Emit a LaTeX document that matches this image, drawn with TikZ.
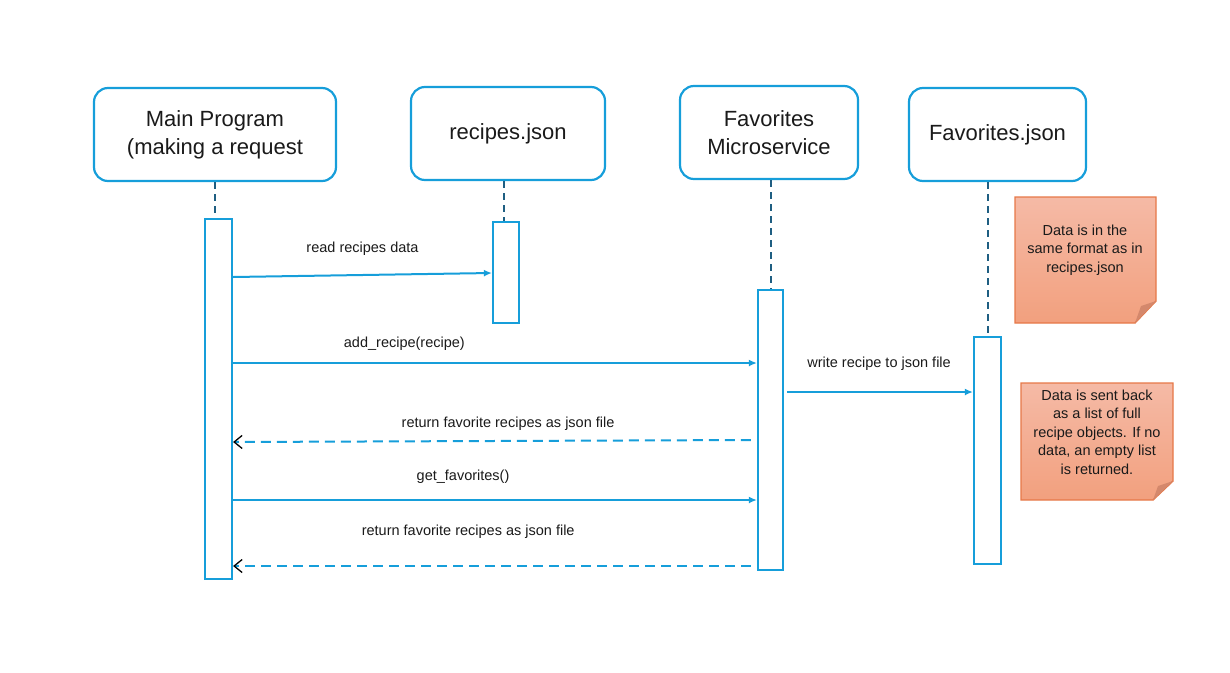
\documentclass[tikz,border=0pt]{standalone}
\usepackage{fontspec}
\setmainfont{Liberation Sans}
\usetikzlibrary{arrows.meta}

\definecolor{lineblue}{RGB}{22,158,218}
\definecolor{lifeblue}{RGB}{31,94,130}
\definecolor{notetop}{RGB}{245,186,166}
\definecolor{notebot}{RGB}{242,160,126}
\definecolor{noteedge}{RGB}{230,120,72}
\definecolor{notefold}{RGB}{212,136,108}
\definecolor{ink}{RGB}{26,26,26}

\tikzstyle{head} = [draw=lineblue,line width=2.2pt,rounded corners=14pt,align=center,text=ink,font=\fontsize{22}{28}\selectfont]
\tikzstyle{bar} = [draw=lineblue,line width=2.2pt,fill=white,inner sep=0pt]
\tikzstyle{lifeline} = [draw=lifeblue,line width=2pt,dash pattern=on 7pt off 5pt]
\tikzstyle{msg} = [draw=lineblue,line width=2pt]
\tikzstyle{reply} = [draw=lineblue,line width=2pt,dash pattern=on 10pt off 6pt]
\tikzstyle{edgelabel} = [text=ink,font=\fontsize{14.5}{18}\selectfont]
\tikzstyle{notebox} = [draw=noteedge,line width=1.4pt,top color=notetop,bottom color=notebot]
\tikzstyle{notetext} = [text=ink,align=center,font=\fontsize{14.5}{18.5}\selectfont]

\begin{document}
\begin{tikzpicture}[x=1pt,y=-1pt]
	\useasboundingbox (0,0) rectangle (1230,672);
	\node[head,minimum width=242pt,minimum height=93pt] (main) at (215,134.5) {Main Program\\(making a request};
	\node[head,minimum width=194pt,minimum height=93pt] (recipes) at (508,133.5) {recipes.json};
	\node[head,minimum width=178pt,minimum height=93pt] (service) at (769,132.5) {Favorites\\Microservice};
	\node[head,minimum width=177pt,minimum height=93pt] (favjson) at (997.5,134.5) {Favorites.json};
	\node[bar,minimum width=27pt,minimum height=360pt] (mainbar) at (218.5,399) {};
	\node[bar,minimum width=26pt,minimum height=101pt] (recbar) at (506,272.5) {};
	\node[bar,minimum width=25pt,minimum height=280pt] (servbar) at (770.5,430) {};
	\node[bar,minimum width=27pt,minimum height=227pt] (favbar) at (987.5,450.5) {};
	\draw[lifeline] (main.south -| 215,0) -- (mainbar.north -| 215,0);
	\draw[lifeline] (recipes.south -| 504,0) -- (recbar.north -| 504,0);
	\draw[lifeline] (service.south -| servbar.north) -- (servbar.north);
	\draw[lifeline] (favjson.south -| favbar.north) -- (favbar.north);
	\draw[msg,->,>={Latex[length=8pt,width=7pt]}] ([yshift=-2pt]mainbar.east |- 0,275) --
		node[edgelabel,pos=0.5,yshift=26pt]{read recipes data} ([yshift=2pt]recbar.west |- 0,275);
	\draw[msg,->,>={Latex[length=8pt,width=7pt]}] (mainbar.east |- 0,363) --
		node[edgelabel,pos=0.327,yshift=19pt]{add\_recipe(recipe)} (servbar.west |- 0,363);
	\draw[msg,->,>={Latex[length=8pt,width=7pt]}] ([xshift=3pt]servbar.east |- 0,392) --
		node[edgelabel,pos=0.495,yshift=28pt]{write recipe to json file} (favbar.west |- 0,392);
	\draw[reply,-{Straight Barb[length=8pt,width=13pt,line width=1.3pt,black]}] ([xshift=-6pt]servbar.west |- 0,440) --
		node[edgelabel,pos=0.469,yshift=17pt]{return favorite recipes as json file} (mainbar.east |- 0,442);
	\draw[msg,->,>={Latex[length=8pt,width=7pt]}] (mainbar.east |- 0,500) --
		node[edgelabel,pos=0.439,yshift=23pt]{get\_favorites()} (servbar.west |- 0,500);
	\draw[reply,-{Straight Barb[length=8pt,width=13pt,line width=1.3pt,black]}] ([xshift=-6pt]servbar.west |- 0,566) --
		node[edgelabel,pos=0.546,yshift=34pt]{return favorite recipes as json file} (mainbar.east |- 0,566);
	% notes
	\path[notebox] (1015,197) -- (1156,197) -- (1156,301) -- (1135,323) -- (1015,323) -- cycle;
	\fill[notefold] (1156,301) -- (1141,306) -- (1135,323) -- cycle;
	\node[notetext] (note1) at (1085,250) {Data is in the\\same format as in\\recipes.json};
	\path[notebox] (1021,383) -- (1173,383) -- (1173,481) -- (1153,500) -- (1021,500) -- cycle;
	\fill[notefold] (1173,481) -- (1158,486) -- (1153,500) -- cycle;
	\node[notetext] (note2) at (1097,432) {Data is sent back\\as a list of full\\recipe objects. If no\\data, an empty list\\is returned.};
\end{tikzpicture}
\end{document}
